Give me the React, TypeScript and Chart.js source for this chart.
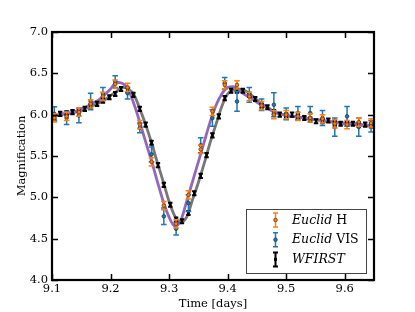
import React, { useEffect, useRef } from "react";
import { Chart, registerables } from "chart.js";
Chart.register(...registerables);

// Model curve sampling times (days)
const modelTimes = [
  9.10, 9.11, 9.12, 9.13, 9.14, 9.15, 9.16, 9.17, 9.18, 9.19,
  9.20, 9.21, 9.22, 9.23, 9.24, 9.25, 9.26, 9.27, 9.28, 9.29,
  9.30, 9.31, 9.32, 9.33, 9.34, 9.35, 9.36, 9.37, 9.38, 9.39,
  9.40, 9.41, 9.42, 9.43, 9.44, 9.45, 9.46, 9.47, 9.48, 9.49,
  9.50, 9.51, 9.52, 9.53, 9.54, 9.55, 9.56, 9.57, 9.58, 9.59,
  9.60, 9.61, 9.62, 9.63, 9.64, 9.65,
];
// Euclid model (purple)
const euclidModel = [
  5.99, 6.00, 6.01, 6.02, 6.04, 6.07, 6.10, 6.14, 6.18, 6.24,
  6.31, 6.39, 6.38, 6.31, 6.13, 5.91, 5.67, 5.44, 5.19, 4.95,
  4.76, 4.65, 4.72, 4.95, 5.19, 5.43, 5.67, 5.91, 6.11, 6.25,
  6.33, 6.34, 6.29, 6.24, 6.20, 6.15, 6.11, 6.07, 6.03, 6.01,
  5.99, 5.98, 5.97, 5.96, 5.95, 5.94, 5.93, 5.92, 5.91, 5.90,
  5.90, 5.89, 5.89, 5.88, 5.87, 5.87,
];
// WFIRST model (gray)
const wfirstModel = [
  5.97, 5.99, 6.01, 6.02, 6.03, 6.05, 6.08, 6.11, 6.14, 6.18,
  6.23, 6.28, 6.33, 6.31, 6.24, 6.07, 5.88, 5.66, 5.42, 5.19,
  4.95, 4.77, 4.70, 4.76, 4.97, 5.18, 5.41, 5.66, 5.88, 6.10,
  6.25, 6.30, 6.31, 6.29, 6.24, 6.18, 6.12, 6.08, 6.03, 6.01,
  5.99, 5.98, 5.97, 5.96, 5.95, 5.94, 5.93, 5.92, 5.91, 5.90,
  5.89, 5.89, 5.88, 5.87, 5.87, 5.86,
];

// Euclid observations
const euclidTimes = [
  9.104, 9.125, 9.146, 9.166, 9.187, 9.208, 9.229, 9.250, 9.270, 9.291,
  9.312, 9.333, 9.354, 9.374, 9.395, 9.416, 9.437, 9.458, 9.479, 9.500,
  9.520, 9.541, 9.562, 9.583, 9.604, 9.624, 9.645,
];
const euclidH = [
  5.96, 5.98, 6.03, 6.13, 6.22, 6.37, 6.33, 5.88, 5.43, 4.90,
  4.68, 5.03, 5.58, 6.04, 6.36, 6.36, 6.22, 6.11, 6.00, 6.00,
  5.98, 5.96, 5.95, 5.89, 5.88, 5.91, 5.90,
];
const euclidHErr = [
  0.05, 0.05, 0.05, 0.05, 0.05, 0.05, 0.05, 0.05, 0.05, 0.05,
  0.05, 0.05, 0.05, 0.05, 0.05, 0.05, 0.05, 0.05, 0.05, 0.05,
  0.05, 0.05, 0.05, 0.05, 0.05, 0.05, 0.05,
];
const euclidVIS = [
  6.01, 5.96, 5.99, 6.16, 6.25, 6.40, 6.26, 5.84, 5.52, 4.77,
  4.62, 4.93, 5.63, 5.96, 6.38, 6.16, 6.24, 6.12, 6.12, 6.01,
  6.02, 6.02, 5.96, 5.85, 5.98, 5.85, 5.86,
];
const euclidVISErr = [
  0.085, 0.08, 0.087, 0.10, 0.08, 0.07, 0.07, 0.06, 0.09, 0.10,
  0.077, 0.10, 0.09, 0.10, 0.07, 0.12, 0.09, 0.07, 0.145, 0.07,
  0.08, 0.08, 0.09, 0.11, 0.12, 0.11, 0.07,
];

// WFIRST observations
const wfirstTimes = [
  9.104, 9.114, 9.125, 9.135, 9.146, 9.156, 9.166, 9.177, 9.187, 9.198,
  9.208, 9.218, 9.229, 9.239, 9.250, 9.260, 9.270, 9.281, 9.291, 9.302,
  9.312, 9.322, 9.333, 9.343, 9.354, 9.364, 9.374, 9.385, 9.395, 9.406,
  9.416, 9.426, 9.437, 9.447, 9.458, 9.468, 9.479, 9.489, 9.500, 9.510,
  9.520, 9.531, 9.541, 9.551, 9.562, 9.572, 9.583, 9.593, 9.604, 9.614,
  9.624, 9.635, 9.645,
];
const wfirstMag = [
  5.97, 6.01, 6.02, 6.03, 6.05, 6.07, 6.10, 6.13, 6.17, 6.21,
  6.25, 6.31, 6.30, 6.24, 6.07, 5.88, 5.66, 5.39, 5.15, 4.91,
  4.73, 4.71, 4.81, 5.05, 5.26, 5.51, 5.75, 5.98, 6.20, 6.29,
  6.29, 6.29, 6.24, 6.19, 6.11, 6.09, 6.03, 6.00, 5.99, 6.00,
  5.97, 5.96, 5.94, 5.92, 5.92, 5.93, 5.90, 5.89, 5.89, 5.89,
  5.88, 5.88, 5.87,
];
const wfirstErr = [
  0.025, 0.025, 0.025, 0.025, 0.025, 0.025, 0.025, 0.025, 0.025, 0.025,
  0.025, 0.025, 0.025, 0.025, 0.025, 0.025, 0.025, 0.025, 0.025, 0.025,
  0.025, 0.025, 0.025, 0.025, 0.025, 0.025, 0.025, 0.025, 0.025, 0.025,
  0.025, 0.025, 0.025, 0.025, 0.025, 0.025, 0.025, 0.025, 0.025, 0.025,
  0.025, 0.025, 0.025, 0.025, 0.025, 0.025, 0.025, 0.025, 0.025, 0.025,
  0.025, 0.025, 0.025,
];

const xTicks = [9.1, 9.2, 9.3, 9.4, 9.5, 9.6];
const yTicks = [4.0, 4.5, 5.0, 5.5, 6.0, 6.5, 7.0];

const ORANGE = "#ff7f0e";
const BLUE = "#1f77b4";
const PURPLE = "#9467bd";
const GRAY = "#777777";
const SERIF = "'DejaVu Serif', serif";

const pts = (xs: number[], ys: number[]) => xs.map((x, i) => ({ x, y: ys[i] }));

export default function App() {
  const ref = useRef<HTMLCanvasElement>(null);
  useEffect(() => {
    const canvas = ref.current!;

    const errPlugin = {
      id: "errbars",
      beforeDatasetDraw(chart: any, args: any) {
        const ds = chart.data.datasets[args.index];
        if (!ds.errors) return;
        const ctx = chart.ctx;
        const ys = chart.scales.y;
        ctx.save();
        ctx.strokeStyle = ds.errColor;
        ctx.lineWidth = ds.errWidth;
        args.meta.data.forEach((el: any, i: number) => {
          const v = ds.data[i].y;
          const e = ds.errors[i];
          const y1 = ys.getPixelForValue(v + e);
          const y2 = ys.getPixelForValue(v - e);
          const x = el.x;
          const c = ds.capHalf;
          ctx.beginPath();
          ctx.moveTo(x, y1);
          ctx.lineTo(x, y2);
          ctx.moveTo(x - c, y1);
          ctx.lineTo(x + c, y1);
          ctx.moveTo(x - c, y2);
          ctx.lineTo(x + c, y2);
          ctx.stroke();
        });
        ctx.restore();
      },
    };

    const framePlugin = {
      id: "frame",
      afterDatasetsDraw(chart: any) {
        const ctx = chart.ctx;
        const { left, right, top, bottom } = chart.chartArea;
        const xs = chart.scales.x;
        const ys = chart.scales.y;
        ctx.save();
        ctx.strokeStyle = "#000";
        ctx.lineWidth = 1.5;
        const tl = 6;
        ctx.beginPath();
        xTicks.forEach((v) => {
          const px = Math.round(xs.getPixelForValue(v)) + 0.5;
          ctx.moveTo(px, bottom);
          ctx.lineTo(px, bottom - tl);
          ctx.moveTo(px, top);
          ctx.lineTo(px, top + tl);
        });
        yTicks.forEach((v) => {
          const py = Math.round(ys.getPixelForValue(v)) + 0.5;
          ctx.moveTo(left, py);
          ctx.lineTo(left + tl, py);
          ctx.moveTo(right, py);
          ctx.lineTo(right - tl, py);
        });
        ctx.stroke();
        ctx.lineWidth = 2.2;
        ctx.strokeRect(left, top, right - left, bottom - top);

        // legend
        const bw = 120, bh = 64;
        const bx = right - 8 - bw;
        const by = bottom - 7 - bh;
        ctx.fillStyle = "#fff";
        ctx.fillRect(bx, by, bw, bh);
        ctx.strokeStyle = "#444";
        ctx.lineWidth = 1;
        ctx.strokeRect(bx + 0.5, by + 0.5, bw, bh);
        const entries = [
          { color: ORANGE, edge: "#6b3a10", it: "Euclid", rest: " H", rect: false },
          { color: BLUE, edge: "#173a55", it: "Euclid", rest: " VIS", rect: false },
          { color: "#000", edge: "#000", it: "WFIRST", rest: "", rect: true },
        ];
        entries.forEach((en, i) => {
          const cy = by + 11 + i * 19.7;
          const sx = bx + 29.5;
          ctx.strokeStyle = en.color;
          ctx.lineWidth = en.rect ? 2 : 1.5;
          ctx.beginPath();
          ctx.moveTo(sx, cy - 7);
          ctx.lineTo(sx, cy + 7);
          ctx.moveTo(sx - 2.5, cy - 7);
          ctx.lineTo(sx + 2.5, cy - 7);
          ctx.moveTo(sx - 2.5, cy + 7);
          ctx.lineTo(sx + 2.5, cy + 7);
          ctx.stroke();
          ctx.fillStyle = en.color;
          ctx.strokeStyle = en.edge;
          ctx.lineWidth = 0.8;
          if (en.rect) {
            ctx.fillRect(sx - 1.5, cy - 1.5, 3, 3);
          } else {
            ctx.beginPath();
            ctx.arc(sx, cy, 1.8, 0, Math.PI * 2);
            ctx.fill();
            ctx.stroke();
          }
          const tx = bx + 46;
          ctx.fillStyle = "#000";
          ctx.textBaseline = "middle";
          ctx.textAlign = "left";
          ctx.font = `italic 12.5px ${SERIF}`;
          ctx.fillText(en.it, tx, cy + 0.5);
          const w = ctx.measureText(en.it).width;
          ctx.font = `12.5px ${SERIF}`;
          ctx.fillText(en.rest, tx + w, cy + 0.5);
        });
        ctx.restore();
      },
    };

    const chart = new Chart(canvas, {
      type: "scatter",
      data: {
        datasets: [
          {
            type: "line",
            label: "WFIRST model",
            data: pts(modelTimes, wfirstModel),
            borderColor: GRAY,
            borderWidth: 2.8,
            pointRadius: 0,
            cubicInterpolationMode: "monotone",
            fill: false,
            order: 6,
          } as any,
          {
            type: "line",
            label: "Euclid model",
            data: pts(modelTimes, euclidModel),
            borderColor: PURPLE,
            borderWidth: 2.8,
            pointRadius: 0,
            cubicInterpolationMode: "monotone",
            fill: false,
            order: 5,
          } as any,
          {
            label: "WFIRST",
            data: pts(wfirstTimes, wfirstMag),
            errors: wfirstErr,
            errColor: "#000",
            errWidth: 2,
            capHalf: 2.2,
            pointStyle: "rect",
            pointRadius: 1.8,
            pointBackgroundColor: "#000",
            pointBorderColor: "#000",
            pointBorderWidth: 0,
            order: 4,
          } as any,
          {
            label: "Euclid VIS",
            data: pts(euclidTimes, euclidVIS),
            errors: euclidVISErr,
            errColor: BLUE,
            errWidth: 1.5,
            capHalf: 2.8,
            pointRadius: 1.8,
            pointBackgroundColor: BLUE,
            pointBorderColor: "#173a55",
            pointBorderWidth: 0.8,
            order: 3,
          } as any,
          {
            label: "Euclid H",
            data: pts(euclidTimes, euclidH),
            errors: euclidHErr,
            errColor: ORANGE,
            errWidth: 1.5,
            capHalf: 2.8,
            pointRadius: 1.8,
            pointBackgroundColor: ORANGE,
            pointBorderColor: "#6b3a10",
            pointBorderWidth: 0.8,
            order: 2,
          } as any,
        ],
      },
      options: {
        responsive: false,
        animation: false,
        events: [],
        layout: { padding: { left: 0, top: 32, right: 41, bottom: 0 } },
        plugins: {
          legend: { display: false },
          tooltip: { enabled: false },
        },
        scales: {
          x: {
            type: "linear",
            min: 9.1,
            max: 9.65,
            afterBuildTicks: (s: any) => {
              s.ticks = xTicks.map((v) => ({ value: v }));
            },
            afterFit: (s: any) => {
              s.height = 32;
            },
            ticks: {
              color: "#000",
              font: { family: SERIF, size: 11.5 },
              padding: 2,
              maxRotation: 0,
              autoSkip: false,
              callback: (v: any) => Number(v).toFixed(1),
            },
            grid: { display: false, drawTicks: false },
            border: { display: false },
            title: {
              display: true,
              text: "Time [days]",
              color: "#000",
              font: { family: SERIF, size: 11.5 },
              padding: { top: 0, bottom: 1 },
            },
          },
          y: {
            type: "linear",
            min: 4,
            max: 7,
            afterBuildTicks: (s: any) => {
              s.ticks = yTicks.map((v) => ({ value: v }));
            },
            afterFit: (s: any) => {
              s.width = 52;
            },
            ticks: {
              color: "#000",
              font: { family: SERIF, size: 11.5 },
              padding: 4,
              autoSkip: false,
              callback: (v: any) => Number(v).toFixed(1),
            },
            grid: { display: false, drawTicks: false },
            border: { display: false },
            title: {
              display: true,
              text: "Magnification",
              color: "#000",
              font: { family: SERIF, size: 11.5 },
              padding: { top: 15, bottom: 0 },
            },
          },
        },
      } as any,
      plugins: [errPlugin, framePlugin],
    });
    return () => chart.destroy();
  }, []);

  return (
    <div style={{ position: "absolute", left: 0, top: 0, width: 415, height: 312, background: "#fff" }}>
      <canvas ref={ref} width={415} height={312} style={{ display: "block" }} />
    </div>
  );
}
